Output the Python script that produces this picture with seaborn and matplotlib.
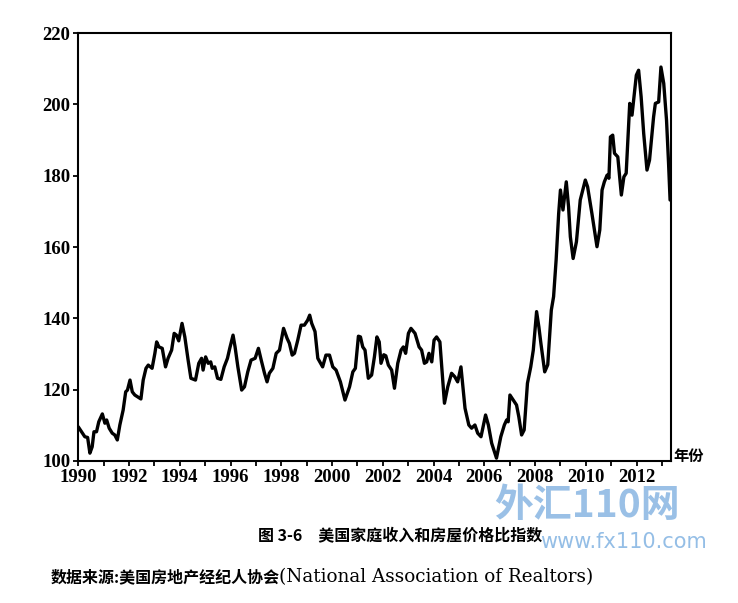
import matplotlib
matplotlib.use("Agg")
import matplotlib.pyplot as plt
import seaborn as sns
import pandas as pd

# ---- data (decimal year, index value) ----
years = [
    1990.00, 1990.13, 1990.26, 1990.37, 1990.46, 1990.55, 1990.62, 1990.72, 1990.81, 1990.95,
    1991.05, 1991.12, 1991.22, 1991.34, 1991.44, 1991.54, 1991.64, 1991.77, 1991.87, 1991.94,
    1992.04, 1992.13, 1992.23, 1992.36, 1992.47, 1992.56, 1992.67, 1992.76, 1992.91, 1993.02,
    1993.09, 1993.18, 1993.31, 1993.44, 1993.54, 1993.68, 1993.78, 1993.87, 1993.96, 1994.09,
    1994.20, 1994.33, 1994.44, 1994.62, 1994.75, 1994.86, 1994.92, 1995.02, 1995.12, 1995.22,
    1995.28, 1995.38, 1995.49, 1995.62, 1995.75, 1995.88, 1995.97, 1996.10, 1996.18, 1996.29,
    1996.44, 1996.55, 1996.68, 1996.81, 1996.97, 1997.10, 1997.21, 1997.34, 1997.44, 1997.53,
    1997.67, 1997.80, 1997.93, 1998.09, 1998.23, 1998.32, 1998.43, 1998.52, 1998.65, 1998.78,
    1998.91, 1999.04, 1999.12, 1999.20, 1999.33, 1999.44, 1999.63, 1999.76, 1999.90, 2000.03,
    2000.16, 2000.33, 2000.51, 2000.69, 2000.82, 2000.92, 2001.04, 2001.12, 2001.21, 2001.30,
    2001.43, 2001.56, 2001.67, 2001.77, 2001.86, 2001.93, 2002.04, 2002.12, 2002.22, 2002.35,
    2002.46, 2002.59, 2002.72, 2002.81, 2002.90, 2003.01, 2003.11, 2003.27, 2003.43, 2003.53,
    2003.64, 2003.73, 2003.82, 2003.93, 2004.02, 2004.12, 2004.25, 2004.43, 2004.56, 2004.71,
    2004.84, 2004.95, 2005.08, 2005.24, 2005.39, 2005.50, 2005.63, 2005.74, 2005.87, 2006.05,
    2006.16, 2006.29, 2006.48, 2006.65, 2006.79, 2006.88, 2006.94, 2007.01, 2007.14, 2007.27,
    2007.36, 2007.47, 2007.57, 2007.70, 2007.83, 2007.93, 2008.06, 2008.15, 2008.23, 2008.38,
    2008.50, 2008.64, 2008.73, 2008.83, 2008.93, 2009.00, 2009.10, 2009.23, 2009.32, 2009.39,
    2009.50, 2009.63, 2009.78, 2009.98, 2010.07, 2010.24, 2010.44, 2010.55, 2010.64, 2010.73,
    2010.84, 2010.91, 2010.97, 2011.06, 2011.13, 2011.26, 2011.40, 2011.50, 2011.59, 2011.73,
    2011.82, 2011.99, 2012.08, 2012.18, 2012.28, 2012.41, 2012.51, 2012.67, 2012.74, 2012.87,
    2012.96, 2013.07, 2013.18, 2013.26, 2013.32,
]
index_values = [
    109.6, 108.2, 106.8, 106.6, 102.2, 104.0, 108.2, 108.2, 111.0, 113.2,
    110.6, 111.5, 109.2, 107.8, 107.3, 105.9, 110.1, 114.3, 119.4, 119.9,
    122.7, 119.4, 118.5, 117.9, 117.4, 122.7, 126.0, 126.9, 126.0, 130.2,
    133.4, 132.0, 131.6, 126.4, 128.8, 131.1, 135.8, 135.3, 133.7, 138.6,
    134.8, 128.3, 123.2, 122.7, 127.4, 128.8, 125.5, 129.2, 127.4, 127.8,
    126.0, 126.4, 123.2, 122.9, 126.4, 128.8, 131.6, 135.3, 132.0, 126.4,
    119.9, 120.8, 125.0, 128.3, 128.8, 131.6, 128.3, 124.6, 122.2, 124.6,
    126.0, 130.2, 131.1, 137.2, 134.4, 133.0, 129.7, 130.2, 133.9, 138.1,
    138.1, 139.5, 140.9, 138.6, 136.3, 128.8, 126.4, 129.7, 129.7, 126.4,
    125.5, 122.2, 117.1, 120.8, 125.0, 126.0, 135.0, 134.8, 132.0, 131.1,
    123.2, 124.1, 129.2, 134.8, 133.4, 127.4, 129.8, 129.5, 126.9, 125.5,
    120.4, 127.4, 131.1, 132.0, 130.2, 135.8, 137.2, 135.8, 132.0, 131.1,
    127.4, 127.8, 130.2, 127.8, 133.9, 134.8, 133.4, 116.2, 120.8, 124.6,
    123.6, 122.2, 126.4, 114.8, 110.1, 109.2, 110.1, 107.8, 106.8, 112.9,
    110.1, 105.0, 100.8, 106.8, 110.1, 111.5, 111.0, 118.5, 117.1, 115.7,
    112.4, 107.3, 108.7, 121.8, 126.4, 131.1, 141.9, 137.6, 133.0, 125.0,
    127.0, 142.3, 146.1, 156.4, 169.4, 176.0, 170.4, 178.3, 171.3, 162.9,
    156.8, 161.5, 173.2, 178.8, 176.9, 169.4, 160.1, 164.8, 176.0, 178.3,
    180.2, 179.3, 190.9, 191.4, 186.3, 185.3, 174.6, 179.7, 180.7, 200.3,
    197.0, 208.2, 209.6, 202.1, 191.9, 181.6, 184.4, 196.5, 200.3, 200.7,
    210.5, 205.9, 195.6, 183.5, 173.2,
]
y_ticks = [100, 120, 140, 160, 180, 200, 220]
x_axis_label = "年份"
title_text = "图 3-6　美国家庭收入和房屋价格比指数"
source_cjk = "数据来源:美国房地产经纪人协会"
source_latin = "(National Association of Realtors)"

df = pd.DataFrame({"year": years, "value": index_values})

sns.set_theme(style="ticks")
plt.rcParams["font.family"] = ["Noto Sans CJK SC", "DejaVu Sans"]

fig = plt.figure(figsize=(7.38, 6.03), dpi=100)
ax = fig.add_axes([0.106, 0.2355, 0.803, 0.7095])

sns.lineplot(data=df, x="year", y="value", ax=ax, color="black",
             linewidth=2.4, estimator=None, sort=False)

ax.set_xlim(1990, 2013.35)
ax.set_ylim(100, 220)
ax.set_xticks(range(1990, 2014))
ax.set_xticklabels([str(y) if (y - 1990) % 2 == 0 else "" for y in range(1990, 2014)])
ax.set_yticks(y_ticks)
ax.set_yticklabels([str(v) for v in y_ticks])
ax.set_xlabel("")
ax.set_ylabel("")

for lab in ax.get_xticklabels() + ax.get_yticklabels():
    lab.set_fontfamily(["Liberation Serif", "DejaVu Serif"])
    lab.set_fontweight("bold")
    lab.set_fontsize(13.5)
    lab.set_color("black")

ax.tick_params(axis="both", direction="out", length=3.5, width=1.3, colors="black", pad=2)
for s in ax.spines.values():
    s.set_linewidth(1.5)
    s.set_color("black")
    s.set_visible(True)

# axis unit label at the right end of the x axis
fig.text(0.913, 1 - 456 / 603, x_axis_label, fontsize=11, fontweight="bold",
         ha="left", va="center", color="black")

# watermark
fig.text(0.795, 1 - 506 / 603, "外汇110网", fontsize=28, fontweight="bold",
         style="italic", color="#6fa6dc", alpha=0.7, ha="center", va="center")
fig.text(0.845, 1 - 542 / 603, "www.fx110.com", fontsize=15,
         family=["DejaVu Sans"], color="#7aaee0", alpha=0.8, ha="center", va="center")

# caption and source
fig.text(0.542, 1 - 535 / 603, title_text, fontsize=11.5, fontweight="bold",
         ha="center", va="center", color="black")
t1 = fig.text(0.068, 1 - 577 / 603, source_cjk, fontsize=11.5, fontweight="bold",
              ha="left", va="center", color="black")
fig.canvas.draw()
bb = t1.get_window_extent(renderer=fig.canvas.get_renderer())
x_next = bb.x1 / fig.bbox.width
fig.text(x_next, 1 - 577 / 603, source_latin, fontsize=13.2,
         family=["DejaVu Serif"], ha="left", va="center", color="black")

fig.savefig("out.png", dpi=100, facecolor="white")
